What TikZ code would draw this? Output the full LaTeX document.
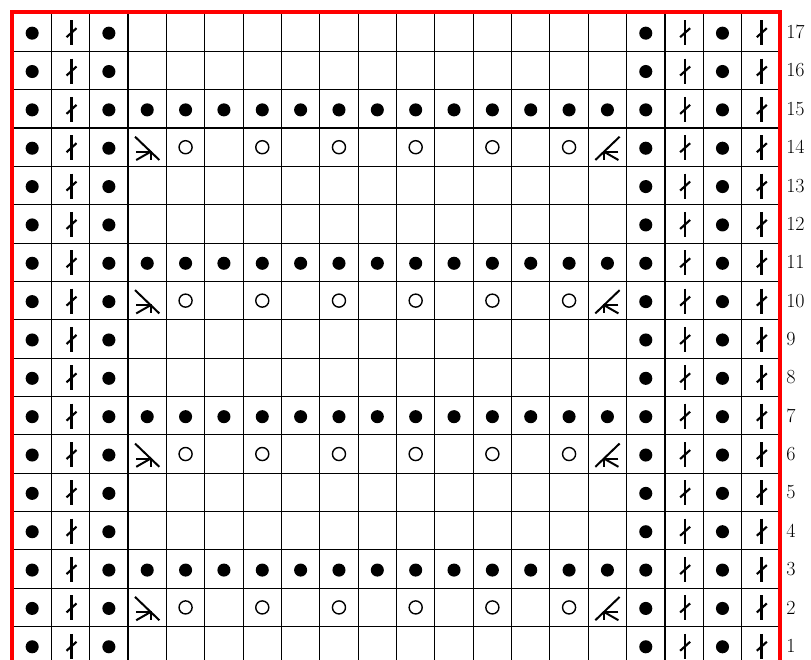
\documentclass[tikz,border=0pt]{standalone}
\begin{document}
\begin{tikzpicture}[x=0.75pt,y=-0.75pt,
  gridline/.style={line width=0.85pt,black},
  frame/.style={line width=3pt,red},
  rowlabel/.style={anchor=west,inner sep=0pt,font=\fontsize{15}{18}\selectfont},
  kdot/.pic={\fill (0,1) circle[radius=4.9pt];},
  kyo/.pic={\draw[line width=1.05pt] (0,0) circle[radius=4.9pt];},
  ktw/.pic={\draw[line width=2pt] (1,-12) -- (1,13);
            \draw[line width=1.6pt] (-4,5) -- (6,-4);},
  kssk/.pic={\draw[line width=1.5pt] (-12.2,-10.5) -- (12.1,12.8);
             \draw[line width=1.5pt] (-11,4.5) -- (3.5,4.5) -- (3.5,12.8);
             \draw[line width=1.5pt] (3.5,4.5) -- (-11,12.8);},
  kktog/.pic={\draw[line width=1.5pt] (12.2,-10.5) -- (-12.1,12.8);
             \draw[line width=1.5pt] (11,4.5) -- (-3.5,4.5) -- (-3.5,12.8);
             \draw[line width=1.5pt] (-3.5,4.5) -- (11,12.8);}
]
\useasboundingbox (0,0) rectangle (811,660);
\def\cw{38.35}
% grid
\foreach \k in {1,...,19}{
  \draw[gridline] ({13+\k*\cw},13) -- ({13+\k*\cw},680);
}
\foreach \i in {1,...,17}{
  \draw[gridline] (13,{13+\i*\cw}) -- (780,{13+\i*\cw});
}
% stitches
\foreach \r in {1,...,17}{
  \pgfmathsetmacro{\cy}{13+(17-\r+0.5)*\cw}
  \foreach \k in {1,3,17,19}{
    \pic at ({13+(\k-0.5)*\cw},\cy) {kdot};
  }
  \foreach \k in {2,18,20}{
    \pic at ({13+(\k-0.5)*\cw},\cy) {ktw};
  }
  \node[rowlabel] (lab\r) at (786,\cy) {\r};
}
% purl rows
\foreach \r in {3,7,11,15}{
  \pgfmathsetmacro{\cy}{13+(17-\r+0.5)*\cw}
  \foreach \k in {4,...,16}{
    \pic at ({13+(\k-0.5)*\cw},\cy) {kdot};
  }
}
% lace rows
\foreach \r in {2,6,10,14}{
  \pgfmathsetmacro{\cy}{13+(17-\r+0.5)*\cw}
  \pic at ({13+3.5*\cw},\cy) {kssk};
  \pic at ({13+15.5*\cw},\cy) {kktog};
  \foreach \k in {5,7,...,15}{
    \pic at ({13+(\k-0.5)*\cw},\cy) {kyo};
  }
}
% red frame
\draw[frame] (12,680) -- (12,12) -- (780,12) -- (780,680);
\end{tikzpicture}
\end{document}
